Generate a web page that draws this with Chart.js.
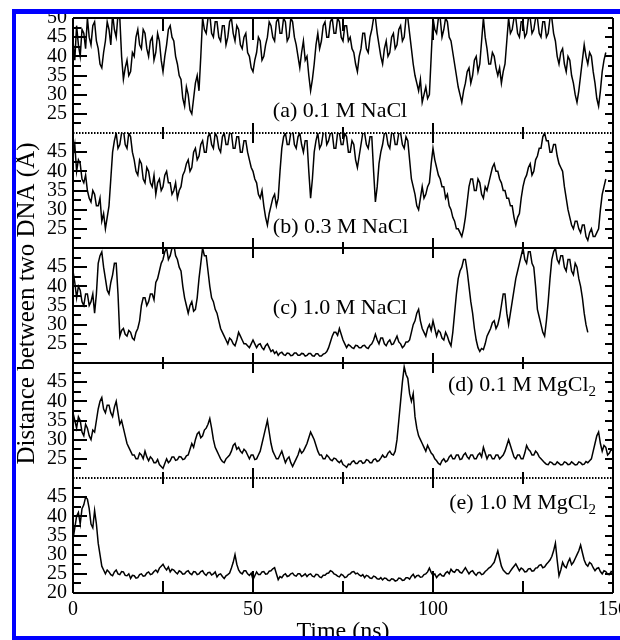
<!DOCTYPE html>
<html><head><meta charset="utf-8">
<script src="https://cdn.jsdelivr.net/npm/chart.js@4.4.1/dist/chart.umd.min.js"></script>
<style>html,body{margin:0;padding:0;background:#fff;}canvas{display:block;}</style>
</head><body>
<canvas id="c" width="620" height="640"></canvas>
<script>
// sample times (ns), every 0.5 ns
const timeNs = Array.from({length: 301}, (_, i) => i / 2);
const panelTitles = ['(a) 0.1 M NaCl', '(b) 0.3 M NaCl', '(c) 1.0 M NaCl', '(d) 0.1 M MgCl', '(e) 1.0 M MgCl'];
const panelSubscripts = ['', '', '', '2', '2'];
const xTickLabels = [0, 50, 100, 150];
const yLabelsTop = [25, 30, 35, 40, 45, 50];
const yLabelsMid = [25, 30, 35, 40, 45];
const yLabelsBottom = [20, 25, 30, 35, 40, 45];
const xTitle = 'Time (ns)';
const yTitle = 'Distance between two DNA (\u00C5)';

// each row = 10 ns (20 samples)
const nacl01 = [
 44,39,48,43,40,47,46,42,50,45,43,48,49,44,42,38,37,41,44,49,
 47,43,51,47,45,51,50,40,34,37,39,35,36,41,40,45,47,43,42,47,
 46,42,40,44,45,39,41,46,44,39,36,40,43,47,48,45,44,40,38,35,
 34,29,27,32,30,26,25,29,33,35,31,40,50,47,46,50,51,46,45,49,
 49,45,44,48,48,43,45,49,50,46,44,48,47,43,42,45,46,41,40,37,
 36,39,41,45,44,39,40,43,45,49,48,45,44,49,50,46,46,50,49,44,
 45,50,49,45,43,40,37,41,44,39,40,35,31,34,38,43,46,42,44,48,
 49,45,45,49,50,46,46,50,49,45,44,48,48,44,45,42,41,38,36,40,
 42,46,46,42,41,45,47,50,50,46,43,40,38,42,44,40,41,45,46,42,
 43,47,48,44,45,50,50,46,42,38,35,33,31,34,28,30,32,29,30,40,
 50,47,46,50,50,45,47,50,49,45,44,41,38,35,32,30,28,31,33,36,
 37,33,35,39,40,36,38,44,50,45,42,38,38,41,40,37,35,37,33,36,
 38,44,50,46,47,50,50,46,45,49,49,45,46,50,50,46,47,50,50,46,
 45,49,49,45,46,50,50,46,44,40,38,41,42,38,36,40,39,35,33,30,
 28,31,35,39,43,40,38,41,40,36,33,29,27,31,36,39,41];
const nacl03 = [
 44,47,40,43,42,38,37,39,35,33,32,35,34,31,31,33,27,29,25,28,
 31,38,45,48,50,46,47,50,51,47,46,50,49,45,43,40,39,43,42,38,
 37,41,40,37,36,39,34,37,38,35,36,39,40,37,37,34,35,37,33,35,
 36,39,40,42,43,40,41,45,46,43,44,47,48,45,45,49,50,47,46,50,
 49,46,45,49,50,47,47,50,50,46,46,49,49,45,45,48,48,45,43,41,
 40,38,37,34,33,35,31,28,26,29,31,33,34,31,33,40,46,49,50,47,
 47,50,51,47,46,49,50,47,45,48,48,40,33,38,45,48,50,46,47,50,
 51,47,48,50,50,46,46,50,50,47,47,50,49,45,45,48,47,43,41,44,
 47,50,50,47,46,49,49,40,32,36,42,45,47,50,50,47,46,50,50,47,
 47,50,50,47,46,49,48,43,38,36,34,31,30,33,36,33,34,36,37,42,
 46,43,41,39,38,36,36,33,34,31,30,28,27,25,25,24,23,25,28,32,
 36,38,38,35,35,38,37,34,33,36,35,37,39,41,42,40,40,38,37,35,
 35,33,33,31,31,28,26,28,29,33,36,38,39,41,42,39,40,43,44,46,
 46,49,50,48,48,45,45,47,47,44,42,41,40,36,33,30,28,26,25,27,
 27,25,24,26,26,23,22,24,25,23,23,24,25,30,34,36,38];
const nacl10 = [
 44,41,37,40,39,36,35,38,38,35,36,38,33,38,46,48,49,45,42,39,
 38,41,43,46,46,38,27,28.5,29,27.5,27,28.5,28,26.5,26,28,29,31,35,37,
 37,35,36,38,38,36.5,41,42,44,46,47,49,50,47,48,50,51,48,47,45,
 44,40,37,35,33,35,36,33.5,34,37,42,46,50,48,48,44,40,37,36,34,
 33,31,29,28,27,26,25,26.5,26,25,24.5,26,28,27,26,25,25,24.5,24,25,
 26,25,24,24.8,25,24,23.5,24.5,25,24,23,23.4,22.5,23,22,22.6,22.8,22.2,22,22.6,
 22.5,21.9,22,22.6,22.6,22,22,22.5,22.4,21.8,22,22.5,22.5,21.9,21.8,22.4,22.4,21.8,21.8,22.3,
 22.5,23,24,25.5,27,28,28,27.2,29,27.5,26,25,24,24.8,24.5,24,23.8,24.6,24.5,24,
 24,24.5,24.6,24,23.8,24.6,25,26,27.5,26,25,26.5,26.5,25,24.5,25.5,26,24.8,25,26,
 27,25.5,25,24,24.5,25.5,25.5,26,28,30,31,33,34,31,29,28,27,29,30,28.5,
 31,29,27,28.5,28,26.5,26,28,27,25.5,24.5,28,33,38,42,44,45,47,47,44,
 40,36,33,29,26,24,23,23.8,23.5,25,27,28,29,30.5,31,29,30,32,35,38,
 38,33,30,33,36,39,42,44,46,48,50,47,46,49,49,46,45,40,34,32,
 30,28,27,31,36,42,47,49,50,47,46,48,48,45,44,47,47,44,43,46,
 45,42,40,37,33,30,28];
const mgcl01 = [
 37,35,33,36,35,32,31,34,33,31,30,32.5,32,35,38,40,41,38,37,39,
 39,37,36,38.5,40,37,34,35,33,31,29,28,27,26,26,25,25,26.5,26,25,
 27,25.5,24.5,25.5,25,24,24,24.8,23.5,23,22.5,23.8,25,24,24.5,25.5,25.5,24.6,24.8,25.6,
 25.5,24.8,25,25.8,26,27.5,29,28,30,31.5,32,30.5,31,32.5,33,34,35.5,33,30,28,
 27,26,25,24.3,24,25,25.5,26,27,28.5,29,27.5,28,27,26.5,27.5,27,26,25,26,
 26,24.8,25,26,27,29,31,33,35,32,29,27,26,25,25,26,27,25.5,24,25,
 25.5,24,23,24,25,26,27.5,26.5,27,28,29,30.5,32,31,30,28.5,27,26,26,25,
 25,26,25.5,24.8,24.5,25.2,25,24.4,24,24.6,23.5,23.2,22.8,23.6,23.5,24.2,24.5,23.8,23.8,24.4,
 24.5,23.8,24,24.8,24.6,24,24,24.8,25,24.3,24.5,25.2,26,25.4,25.5,26.5,27,26.2,26,27,
 30,35,40,45,49,47,46,42,40,42,36,33,31,30,29,28,27,28.5,27.5,26.5,
 26,25,24.5,23.8,23.5,24.5,25,24.2,24.5,25.5,26,25,25,26,26,24.8,25,26,26.5,25.5,
 25,26,26,25,25,26,26.5,25.5,28,26.5,25,26,26,25,25,26,26,25,25.5,26,
 27,28.5,30,28.5,27,25.5,25,26,26,25,25,26.5,28.5,27.5,27,26,26,27,26.5,25.5,
 25,24.5,24,23.6,23.5,24.2,24,23.5,23.5,24.2,23.8,23.4,23.5,24.2,24,23.5,23.6,24.2,23.8,23.4,
 23.5,24.2,24,23.5,23.6,24.3,24,24.5,25,27,29,31,32,29,27,28.5,28,26,26.5,27.5,27];
const mgcl10 = [
 34,37,40,41,38,42,43,45,44.5,42,38,37,41.5,38,33,30,27,26,25,26,
 25.5,24.8,24.5,25.5,26,25,24.8,25.6,25.5,24.6,24.5,25,23.8,24.6,24.5,23.9,24,24.8,25,24.4,
 24.5,25.2,25.5,24.8,25,25.6,26,25.4,26.5,27,27.5,26.6,26,26.8,25.5,26.2,26,25.4,25,25.8,
 25.5,24.9,25,25.6,25.8,25.1,24.8,25.6,25.5,24.8,25,25.6,25.8,25,24.6,25.3,25.4,24.7,25,25.5,
 24.2,24.8,25,24.3,23.8,24.5,24.8,25.2,26.5,28,30,27.5,26,25.3,25,25.8,25.8,25,24.6,25.2,
 23.5,24.5,25.5,24.8,24.8,25.5,25.6,24.9,25,25.7,25.8,26.3,26.6,25,23.5,24.3,24,24.7,25,24.3,
 24.5,25,25.2,24.6,24.4,25,25,24.3,24.6,25,24.3,24.8,25,24.4,24.2,24.9,24.8,24.2,24,24.6,
 24.6,25.1,25.2,25.8,25.6,25,24.8,24.4,24.2,24.9,24.6,24,24.2,24.8,25,25.5,25.6,25,25.2,24.7,
 24.4,24.8,24,24.6,24.4,23.9,23.8,24.4,24.2,23.7,23.6,24,23.4,23.9,23.8,23.3,23.2,23.7,23.6,23.1,
 23.3,23.9,23.8,23.3,23.4,24,24,23.6,24.4,24.9,24,24.5,24.6,24.1,24.2,24.8,25,25.5,26.5,25.4,
 24.6,25,24,24.6,25,24.5,24.4,25.2,25.6,25,26.2,25.6,25.4,26.1,26,25.4,25.2,25.9,26.6,25.8,
 25,25.6,25.8,25.1,24.6,25.3,25.4,24.8,25,25.6,26,26.5,26.8,27.4,28,29.5,31,29,27,26,
 25.5,25,25,25.7,26.4,27,27.6,26.7,25.8,26.5,26.2,25.5,25.6,26.3,26.4,25.7,25.8,26.5,26.6,27.2,
 27.4,26.6,26.8,27.5,28,28.6,29.5,31,33,28.5,24.5,26,28,27,26.6,28,29,27.4,28,29,
 30,31,32.5,30.5,28.6,27.5,27,28,27.6,26.6,25.8,26.4,26.6,25.6,25,25.8,25.6,24.9,24.8,25.6,25.4];

const seriesList = [nacl01, nacl03, nacl10, mgcl01, mgcl10];
const axisIds = ['ya', 'yb', 'yc', 'yd', 'ye'];
const axisLabelSets = [yLabelsTop, yLabelsMid, yLabelsMid, yLabelsMid, yLabelsBottom];
// label anchor positions in data units (x in ns, y in Å)
const titleAnchorX = [55.5, 55.5, 55.5, 145.3, 145.3];
const titleAnchorY = [25.7, 25.5, 34.3, 44.3, 43.5];
const titleAlign = ['left', 'left', 'left', 'right', 'right'];

const SERIF = '"Liberation Serif", "DejaVu Serif", "Times New Roman", serif';

function makeY(id, idx) {
  const labels = axisLabelSets[idx];
  return {
    type: 'linear', position: 'left', stack: 'panels', stackWeight: 1, weight: 10 - idx,
    min: 20, max: 50,
    grid: {display: false, drawTicks: false}, border: {display: false},
    ticks: {stepSize: 5, autoSkip: false, padding: 6, color: '#000',
      font: {family: SERIF, size: 20},
      callback: v => labels.includes(v) ? String(v) : ''},
    afterFit: s => { s.width = 73; s.paddingTop = 0; s.paddingBottom = 0; }
  };
}

const scales = {
  x: {type: 'linear', min: 0, max: 150,
    grid: {display: false, drawTicks: false}, border: {display: false},
    ticks: {stepSize: 50, autoSkip: false, maxRotation: 0, padding: 5, color: '#000',
      font: {family: SERIF, size: 20},
      callback: v => xTickLabels.includes(v) ? String(v) : ''},
    afterFit: s => { s.height = 47; s.paddingLeft = 0; s.paddingRight = 0; }
  }
};
axisIds.forEach((id, i) => { scales[id] = makeY(id, i); });

const datasets = seriesList.map((arr, i) => ({
  data: arr, yAxisID: axisIds[i], xAxisID: 'x',
  borderColor: '#000', borderWidth: 1.5, pointRadius: 0, fill: false, tension: 0, spanGaps: false
}));

const panelPlugin = {
  id: 'panelPlugin',
  beforeDatasetDraw(chart, args) {
    const ys = chart.scales[args.meta.yAxisID];
    const ca = chart.chartArea;
    const ctx = chart.ctx;
    ctx.save();
    ctx.beginPath();
    ctx.rect(ca.left, ys.top, ca.right - ca.left, ys.bottom - ys.top);
    ctx.clip();
  },
  afterDatasetDraw(chart) { chart.ctx.restore(); },
  afterDraw(chart) {
    const ctx = chart.ctx;
    const ca = chart.chartArea;
    const xs = chart.scales.x;
    const L = ca.left, R = ca.right;
    ctx.save();
    ctx.strokeStyle = '#000';
    ctx.lineCap = 'butt';
    ctx.lineWidth = 2;
    ctx.beginPath();
    ctx.moveTo(L, ca.top); ctx.lineTo(L, ca.bottom);
    ctx.moveTo(R, ca.top); ctx.lineTo(R, ca.bottom);
    ctx.stroke();
    const ys0 = chart.scales[axisIds[0]];
    const bounds = [ys0.top].concat(axisIds.map(id => chart.scales[id].bottom));
    const dotted = [false, true, false, false, true, false];
    bounds.forEach((y, i) => {
      ctx.setLineDash(dotted[i] ? [1.5, 1.5] : []);
      ctx.lineWidth = 2;
      ctx.beginPath(); ctx.moveTo(L, y); ctx.lineTo(R, y); ctx.stroke();
    });
    ctx.setLineDash([]);
    axisIds.forEach(id => {
      const s = chart.scales[id];
      ctx.lineWidth = 2;
      ctx.beginPath();
      for (let v = 22.5; v < 50; v += 2.5) {
        const y = Math.round(s.getPixelForValue(v));
        const major = (v % 5 === 0);
        ctx.moveTo(L, y); ctx.lineTo(L + (major ? 14 : 8), y);
        ctx.moveTo(R, y); ctx.lineTo(R - (major ? 8 : 5), y);
      }
      ctx.stroke();
    });
    const xt = [25, 50, 75, 100, 125];
    ctx.lineWidth = 2;
    ctx.beginPath();
    bounds.forEach((y, i) => {
      xt.forEach(t => {
        const x = Math.round(xs.getPixelForValue(t));
        const major = (t % 50 === 0);
        const up = (i === 0) ? 0 : (major ? 10 : 6);
        const down = (i === bounds.length - 1) ? 0 : (major ? 10 : 6);
        const extraTop = (i === 0) ? (major ? 12 : 7) : 0;
        const extraBot = (i === bounds.length - 1) ? (major ? 12 : 6) : 0;
        ctx.moveTo(x, y - up - extraBot); ctx.lineTo(x, y + down + extraTop);
      });
    });
    ctx.stroke();
    ctx.fillStyle = '#000';
    ctx.textBaseline = 'middle';
    axisIds.forEach((id, i) => {
      const s = chart.scales[id];
      const x = xs.getPixelForValue(titleAnchorX[i]);
      const y = s.getPixelForValue(titleAnchorY[i]);
      ctx.font = '22px ' + SERIF;
      if (titleAlign[i] === 'left') {
        ctx.textAlign = 'left';
        ctx.fillText(panelTitles[i], x, y);
      } else {
        ctx.font = '15px ' + SERIF;
        const sw = ctx.measureText(panelSubscripts[i]).width;
        ctx.textAlign = 'left';
        ctx.fillText(panelSubscripts[i], x - sw, y + 7);
        ctx.font = '22px ' + SERIF;
        ctx.textAlign = 'right';
        ctx.fillText(panelTitles[i], x - sw, y);
      }
    });
    ctx.font = '24px ' + SERIF;
    ctx.textAlign = 'center';
    ctx.textBaseline = 'alphabetic';
    ctx.fillText(xTitle, (L + R) / 2, 638);
    ctx.save();
    ctx.translate(34, (ca.top + ca.bottom) / 2 - 2);
    ctx.rotate(-Math.PI / 2);
    ctx.font = '25px ' + SERIF;
    ctx.fillText(yTitle, 0, 0);
    ctx.restore();
    ctx.fillStyle = '#0000ff';
    ctx.fillRect(12, 9, 608, 5);
    ctx.fillRect(12, 9, 4, 631);
    ctx.fillRect(12, 636, 608, 4);
    ctx.fillStyle = '#fff';
    ctx.fillRect(0, 0, 620, 9);
    ctx.fillRect(0, 0, 12, 640);
    ctx.restore();
  }
};

new Chart(document.getElementById('c'), {
  type: 'line',
  data: {labels: timeNs, datasets: datasets},
  options: {
    responsive: false, animation: false, devicePixelRatio: 1,
    layout: {padding: {left: 0, right: 7, top: 18, bottom: 0}},
    plugins: {legend: {display: false}, tooltip: {enabled: false}},
    scales: scales
  },
  plugins: [panelPlugin]
});
</script>
</body></html>
